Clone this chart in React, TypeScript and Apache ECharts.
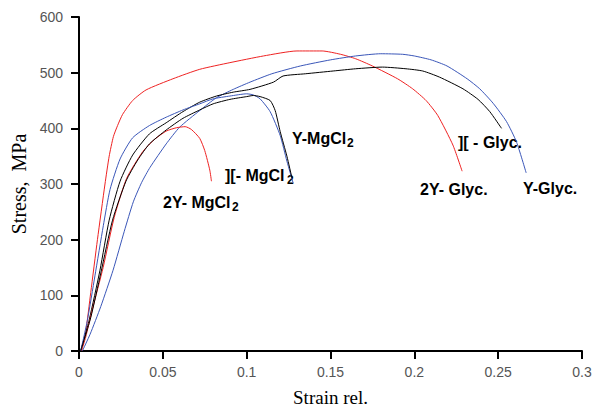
import React, { useEffect, useRef } from "react";
import * as echarts from "echarts";

// Axis ticks
const xTicks = [0, 0.05, 0.1, 0.15, 0.2, 0.25, 0.3];
const yTicks = [0, 100, 200, 300, 400, 500, 600];

// 2Y- Glyc. (red)
const strain2YGlyc = [0.001, 0.004, 0.007, 0.011, 0.0155, 0.018, 0.0205, 0.023, 0.026, 0.032, 0.04, 0.056, 0.072, 0.09, 0.11, 0.13, 0.145, 0.156, 0.165, 0.175, 0.19, 0.199, 0.207, 0.214, 0.223, 0.2285];
const stress2YGlyc = [0, 35, 105, 200, 300, 350, 385, 405, 425, 450, 469, 489, 506, 518, 530, 539, 539, 533, 525, 512, 489, 471, 450, 423, 370, 323];

// Y-Glyc. (blue)
const strainYGlyc = [0.002, 0.0066, 0.013, 0.0203, 0.027, 0.0324, 0.0374, 0.0424, 0.052, 0.06, 0.072, 0.082, 0.092, 0.102, 0.115, 0.132, 0.15, 0.165, 0.18, 0.193, 0.2, 0.21, 0.2195, 0.2315, 0.239, 0.247, 0.255, 0.261, 0.2667];
const stressYGlyc = [0, 30, 80, 145, 215, 268, 303, 330, 372, 402, 432, 455, 470, 483, 498, 512, 523, 530, 534, 533, 530, 523, 512, 489, 471, 445, 412, 375, 320];

// ][ - Glyc. (black)
const strainIIGlyc = [0.001, 0.006, 0.0125, 0.018, 0.0245, 0.032, 0.042, 0.052, 0.062, 0.072, 0.082, 0.092, 0.102, 0.116, 0.1217, 0.135, 0.1516, 0.165, 0.181, 0.195, 0.205, 0.215, 0.229, 0.238, 0.245, 0.252];
const stressIIGlyc = [0, 55, 145, 235, 305, 352, 390, 410, 430, 447, 458, 465, 470, 483, 494, 498, 503, 507, 510, 507, 503, 492, 471, 452, 430, 400];

// Y-MgCl2 (blue)
const strainYMg = [0.001, 0.005, 0.0095, 0.0145, 0.0185, 0.0245, 0.032, 0.042, 0.052, 0.062, 0.072, 0.08, 0.09, 0.1, 0.104, 0.108, 0.114, 0.12, 0.124, 0.1277];
const stressYMg = [0, 55, 135, 225, 290, 345, 383, 405, 420, 433, 444, 453, 458, 462, 460, 453, 430, 387, 341, 302];

// ][- MgCl2 (black)
const strainIIMg = [0.001, 0.007, 0.013, 0.02, 0.028, 0.035, 0.042, 0.052, 0.062, 0.072, 0.08, 0.09, 0.1, 0.104, 0.108, 0.114, 0.117, 0.12, 0.124, 0.127];
const stressIIMg = [0, 60, 140, 235, 305, 343, 372, 397, 418, 433, 444, 452, 457, 459, 457, 450, 432, 394, 350, 311];

// 2Y- MgCl2 (red)
const strain2YMg = [0.0015, 0.004, 0.008, 0.0144, 0.021, 0.0284, 0.038, 0.045, 0.052, 0.058, 0.0633, 0.067, 0.072, 0.075, 0.078, 0.079];
const stress2YMg = [0, 25, 75, 150, 240, 310, 358, 380, 395, 401, 403, 398, 382, 360, 325, 305];

const RED = "#ee2222";
const BLUE = "#3a56b8";
const BLACK = "#000000";

const zip = (xs: number[], ys: number[]) => xs.map((x, i) => [x, ys[i]]);

const labelFont = "Liberation Sans, Arial, sans-serif";

function label(x: number, y: number, main: string, sub: string | null, subX: number) {
  const els: any[] = [
    {
      type: "text",
      x,
      y,
      style: { text: main, fontSize: 16, fontWeight: "bold", fontFamily: labelFont, fill: "#000", verticalAlign: "top" },
    },
  ];
  if (sub) {
    els.push({
      type: "text",
      x: x + subX,
      y: y + 7,
      style: { text: sub, fontSize: 12, fontWeight: "bold", fontFamily: labelFont, fill: "#000", verticalAlign: "top" },
    });
  }
  return els;
}

export default function App() {
  const ref = useRef<HTMLDivElement>(null);
  useEffect(() => {
    if (!ref.current) return;
    const chart = echarts.init(ref.current, undefined, { renderer: "svg" });
    const mk = (name: string, xs: number[], ys: number[], color: string) => ({
      name,
      type: "line",
      data: zip(xs, ys),
      showSymbol: false,
      smooth: 0.2,
      lineStyle: { color, width: 1 },
      itemStyle: { color },
    });
    chart.setOption({
      animation: false,
      backgroundColor: "#ffffff",
      grid: { left: 79, right: 19, top: 17, bottom: 56 },
      xAxis: {
        type: "value",
        min: xTicks[0],
        max: xTicks[xTicks.length - 1],
        interval: 0.05,
        name: "Strain rel.",
        nameLocation: "middle",
        nameGap: 37,
        nameTextStyle: { fontFamily: "Liberation Serif, Times New Roman, serif", fontSize: 19, color: "#000" },
        axisLine: { show: true, onZero: false, lineStyle: { color: "#000", width: 2 } },
        axisTick: { show: true, length: 8, lineStyle: { color: "#000", width: 2 } },
        axisLabel: { color: "#555", fontSize: 14, fontFamily: labelFont, margin: 14 },
        splitLine: { show: false },
      },
      yAxis: {
        type: "value",
        min: yTicks[0],
        max: yTicks[yTicks.length - 1],
        interval: 100,
        name: "Stress,  MPa",
        nameLocation: "middle",
        nameGap: 50,
        nameTextStyle: { fontFamily: "Liberation Serif, Times New Roman, serif", fontSize: 20, color: "#000" },
        axisLine: { show: true, onZero: false, lineStyle: { color: "#000", width: 2 } },
        axisTick: { show: true, length: 8, lineStyle: { color: "#000", width: 2 } },
        axisLabel: { color: "#555", fontSize: 14, fontFamily: labelFont, margin: 16 },
        splitLine: { show: false },
      },
      series: [
        mk("2Y- Glyc.", strain2YGlyc, stress2YGlyc, RED),
        mk("Y-Glyc.", strainYGlyc, stressYGlyc, BLUE),
        mk("][ - Glyc.", strainIIGlyc, stressIIGlyc, BLACK),
        mk("2Y- MgCl2", strain2YMg, stress2YMg, RED),
        mk("Y-MgCl2", strainYMg, stressYMg, BLUE),
        mk("][- MgCl2", strainIIMg, stressIIMg, BLACK),
      ],
      graphic: [
        ...label(163, 194, "2Y- MgCl", "2", 69),
        ...label(225, 167, "][- MgCl", "2", 62),
        ...label(292, 130, "Y-MgCl", "2", 55),
        ...label(458, 134, "][ - Glyc.", null, 0),
        ...label(420, 181, "2Y- Glyc.", null, 0),
        ...label(523, 180, "Y-Glyc.", null, 0),
      ],
    });
    return () => chart.dispose();
  }, []);
  return <div ref={ref} style={{ width: 601, height: 412, position: "absolute", left: 0, top: 0 }} />;
}
